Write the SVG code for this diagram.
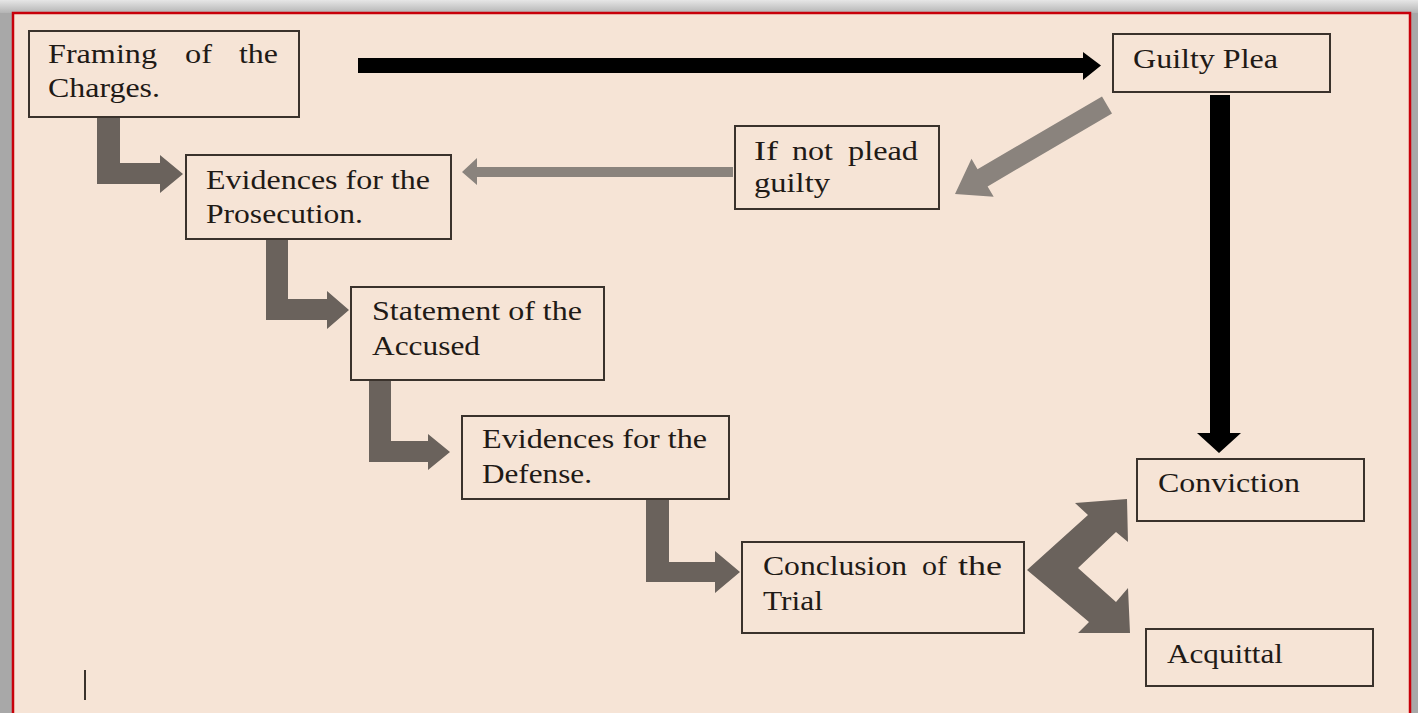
<svg xmlns="http://www.w3.org/2000/svg" width="1418" height="713" viewBox="0 0 1418 713">
<defs>
<linearGradient id="topg" x1="0" y1="0" x2="0" y2="1">
<stop offset="0" stop-color="#e6e6e6"/>
<stop offset="1" stop-color="#b4b4b4"/>
</linearGradient>
<style>
.box{fill:#f6e4d6;stroke:#3a322c;stroke-width:2}
.t{font-family:"Liberation Serif","Times New Roman",serif;font-size:28px;fill:#1f1a16}
.elbow{fill:#6a625c}
.lg{fill:#8a837d}
.blk{fill:#000}
</style>
</defs>
<rect x="0" y="0" width="1418" height="713" fill="#a8a8a8"/>
<rect x="0" y="0" width="1418" height="13" fill="url(#topg)"/>
<rect x="13" y="13" width="1397" height="712" fill="#f6e4d6" stroke="#c8000a" stroke-width="2.5"/>

<g id="connectors">
<polygon class="blk" points="358,58 1083,58 1083,52 1101,65.5 1083,80 1083,73 358,73"/>
<polygon class="blk" points="1210,95 1230,95 1230,433 1241,433 1219,453 1197,433 1210,433"/>
<polygon class="lg" points="1102,96.4 977.5,169.2 971.5,158.8 955,194 993.7,196.8 987.6,186.4 1112,113.6"/>
<polygon class="lg" points="733,167 477,167 477,158 462,172 477,185 477,177 733,177"/>
<polygon class="elbow" points="97,117 120,117 120,163 160,163 160,155 183,174 160,193 160,184 97,184"/>
<polygon class="elbow" points="266,239 288,239 288,299 327,299 327,291 349,310 327,329 327,320 266,320"/>
<polygon class="elbow" points="369,380 391,380 391,441 428,441 428,434 450,452 428,470 428,462 369,462"/>
<polygon class="elbow" points="646,499 669,499 669,562 715,562 715,551 740,572 715,593 715,582 646,582"/>
<polygon class="elbow" points="1027,570 1088,515 1075,503 1127,499 1128,542 1116,532 1078,568 1116,602 1128,588 1130,633 1078,633 1089,622"/>
</g>

<g id="framing">
<rect class="box" x="29" y="31" width="270" height="86"/>
<text class="t" y="63"><tspan x="48" textLength="109" lengthAdjust="spacingAndGlyphs">Framing</tspan><tspan x="185" textLength="27" lengthAdjust="spacingAndGlyphs">of</tspan><tspan x="239" textLength="39" lengthAdjust="spacingAndGlyphs">the</tspan></text>
<text class="t" x="48" y="97" textLength="112" lengthAdjust="spacingAndGlyphs">Charges.</text>
</g>

<g id="prosecution">
<rect class="box" x="186" y="155" width="265" height="84"/>
<text class="t" x="206" y="189" textLength="224" lengthAdjust="spacingAndGlyphs">Evidences for the</text>
<text class="t" x="206" y="223" textLength="157" lengthAdjust="spacingAndGlyphs">Prosecution.</text>
</g>

<g id="statement">
<rect class="box" x="351" y="287" width="253" height="93"/>
<text class="t" x="372" y="320" textLength="210" lengthAdjust="spacingAndGlyphs">Statement of the</text>
<text class="t" x="372" y="355" textLength="108" lengthAdjust="spacingAndGlyphs">Accused</text>
</g>

<g id="defense">
<rect class="box" x="462" y="416" width="267" height="83"/>
<text class="t" x="482" y="448" textLength="225" lengthAdjust="spacingAndGlyphs">Evidences for the</text>
<text class="t" x="482" y="483" textLength="110" lengthAdjust="spacingAndGlyphs">Defense.</text>
</g>

<g id="conclusion">
<rect class="box" x="742" y="542" width="282" height="91"/>
<text class="t" y="575"><tspan x="763" textLength="144" lengthAdjust="spacingAndGlyphs">Conclusion</tspan><tspan x="922" textLength="25" lengthAdjust="spacingAndGlyphs">of</tspan><tspan x="958" textLength="44" lengthAdjust="spacingAndGlyphs">the</tspan></text>
<text class="t" x="763" y="610" textLength="60" lengthAdjust="spacingAndGlyphs">Trial</text>
</g>

<g id="notguilty">
<rect class="box" x="735" y="126" width="204" height="83"/>
<text class="t" y="160"><tspan x="754" textLength="24" lengthAdjust="spacingAndGlyphs">If</tspan><tspan x="792" textLength="41" lengthAdjust="spacingAndGlyphs">not</tspan><tspan x="848" textLength="70" lengthAdjust="spacingAndGlyphs">plead</tspan></text>
<text class="t" x="754" y="192" textLength="76" lengthAdjust="spacingAndGlyphs">guilty</text>
</g>

<g id="guiltyplea">
<rect class="box" x="1113" y="34" width="217" height="58"/>
<text class="t" x="1133" y="68" textLength="145" lengthAdjust="spacingAndGlyphs">Guilty Plea</text>
</g>

<g id="conviction">
<rect class="box" x="1137" y="459" width="227" height="62"/>
<text class="t" x="1158" y="492" textLength="142" lengthAdjust="spacingAndGlyphs">Conviction</text>
</g>

<g id="acquittal">
<rect class="box" x="1146" y="629" width="227" height="57"/>
<text class="t" x="1167" y="663" textLength="116" lengthAdjust="spacingAndGlyphs">Acquittal</text>
</g>

<line x1="85" y1="670" x2="85" y2="700" stroke="#3a322c" stroke-width="2"/>
</svg>
